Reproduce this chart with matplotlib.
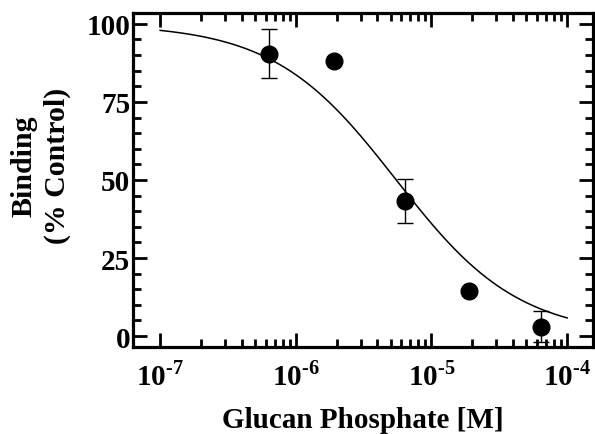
import numpy as np
import matplotlib
matplotlib.use('Agg')
import matplotlib.pyplot as plt
from matplotlib.ticker import FixedLocator, LogLocator, MultipleLocator, FuncFormatter

# measured points
conc = [6.3e-7, 1.9e-6, 6.4e-6, 1.9e-5, 6.4e-5]
binding = [90.5, 88.0, 43.3, 14.5, 3.0]
err = [7.7, 0.0, 7.0, 0.0, 5.0]

# fitted curve parameters (one-site competition)
top, bottom = 100.0, 0.0
ic50 = 5.5e-6
hill = 0.96
curve_range = (1e-7, 1e-4)

decades = [-7, -6, -5]

plt.rcParams['font.family'] = 'Liberation Serif'
plt.rcParams['font.weight'] = 'bold'
plt.rcParams['mathtext.fontset'] = 'custom'
plt.rcParams['mathtext.rm'] = 'Liberation Serif:bold'
plt.rcParams['mathtext.bf'] = 'Liberation Serif:bold'

fig = plt.figure(figsize=(5.95, 4.35), dpi=100)
ax = fig.add_axes([0.2235, 0.2, 0.773, 0.768])

xc = np.logspace(np.log10(curve_range[0]), np.log10(curve_range[1]), 300)
yc = bottom + (top - bottom) / (1 + (xc / ic50) ** hill)
ax.plot(xc, yc, color='black', lw=1.1)

ax.errorbar(conc, binding, yerr=err, fmt='o', color='black', ms=12,
            ecolor='black', elinewidth=1.0, capsize=6, capthick=1.0)

ax.set_xscale('log')
ax.set_xlim(10 ** -7.2, 10 ** -3.81)
ax.set_ylim(-3.5, 103.5)

# minor ticks only between 1e-7 and 1e-4
minor = [m * 10.0 ** d for d in decades for m in range(2, 10)]
ax.xaxis.set_major_locator(LogLocator(base=10, numticks=10))
ax.xaxis.set_minor_locator(FixedLocator(minor))
ax.xaxis.set_major_formatter(FuncFormatter(lambda v, p: r'$10^{\text{%d}}$' % round(np.log10(v))))
ax.yaxis.set_major_locator(MultipleLocator(25))
ax.yaxis.set_minor_locator(MultipleLocator(5))

for s in ax.spines.values():
    s.set_linewidth(2.3)
ax.tick_params(which='both', direction='in', top=True, right=True, width=2, labelsize=21)
ax.tick_params(which='major', length=10)
ax.tick_params(which='minor', length=6)
ax.tick_params(axis='x', pad=10)
ax.tick_params(axis='y', pad=2)

ax.set_xlabel('Glucan Phosphate [M]', fontsize=21, fontweight='bold', labelpad=11)
ax.set_ylabel('Binding\n(% Control)', fontsize=21.5, fontweight='bold',
              linespacing=1.3)
ax.yaxis.set_label_coords(-0.135, 0.545)

fig.savefig('out.png', dpi=100)
